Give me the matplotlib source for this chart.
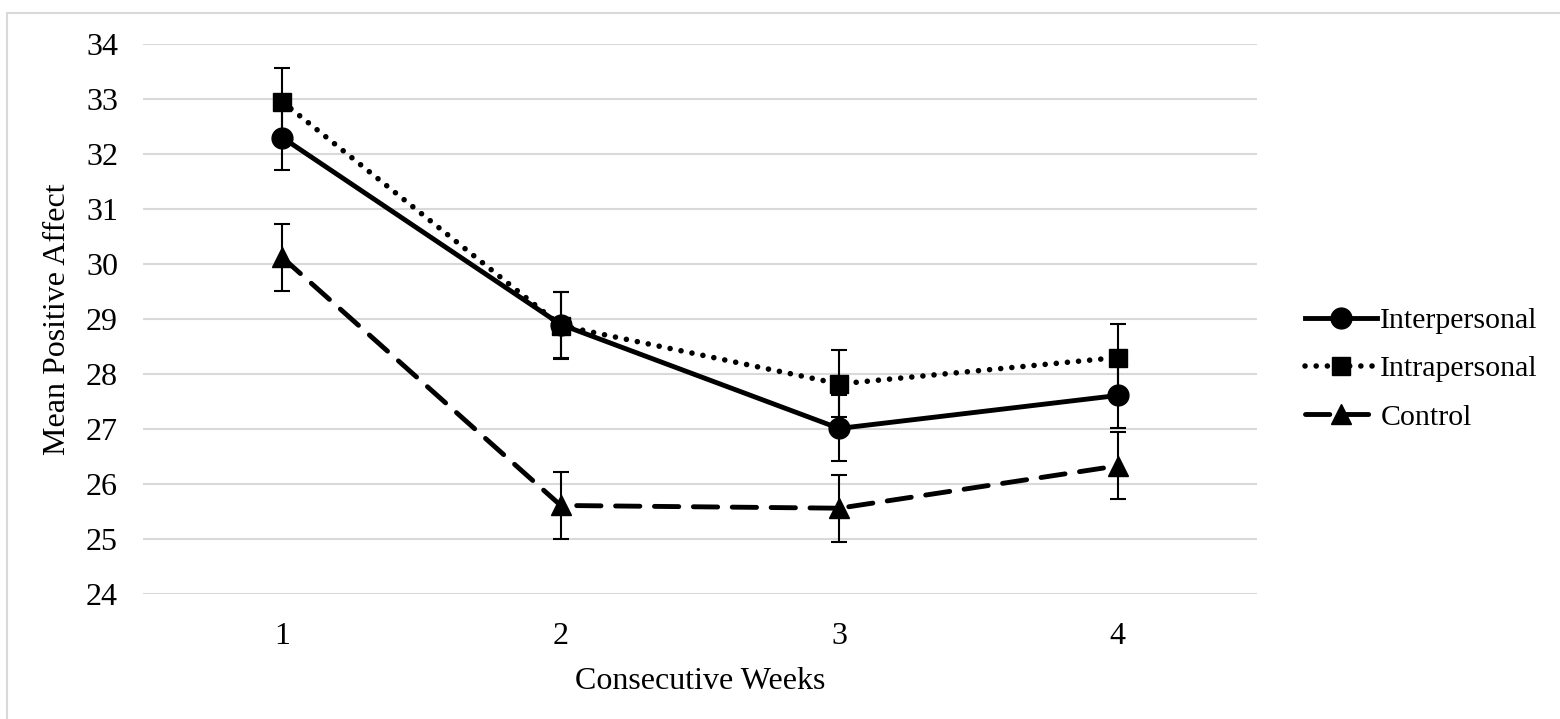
import matplotlib.pyplot as plt
from matplotlib.lines import Line2D

# data
weeks = [1, 2, 3, 4]
interpersonal = [32.30, 28.90, 27.01, 27.61]
intrapersonal = [32.95, 28.88, 27.82, 28.30]
control = [30.12, 25.61, 25.56, 26.33]
err_inter = [0.59, 0.60, 0.60, 0.60]
err_intra = [0.61, 0.61, 0.61, 0.61]
err_control = [0.61, 0.61, 0.61, 0.61]
yticks = list(range(24, 35))

plt.rcParams['font.family'] = ['Liberation Serif', 'DejaVu Serif']
fs = 23

fig = plt.figure(figsize=(15.6, 7.19), dpi=100)
ax = fig.add_axes([143 / 1560, 1 - 594 / 719, (1257 - 143) / 1560, (594 - 44) / 719])

# chart border (top and left edges visible)
fig.add_artist(Line2D([7 / 1560, 1], [1 - 13 / 719, 1 - 13 / 719], color='#d9d9d9', lw=1.5))
fig.add_artist(Line2D([7 / 1560, 7 / 1560], [0, 1 - 13 / 719], color='#d9d9d9', lw=1.5))

for y in yticks:
    ax.axhline(y, color='#d9d9d9', lw=1.5, zorder=0)

ax.errorbar(weeks, control, yerr=err_control, fmt='none', ecolor='black', elinewidth=1.5, capsize=6, capthick=1.5, zorder=2)
ax.errorbar(weeks, interpersonal, yerr=err_inter, fmt='none', ecolor='black', elinewidth=1.5, capsize=6, capthick=1.5, zorder=2)
ax.errorbar(weeks, intrapersonal, yerr=err_intra, fmt='none', ecolor='black', elinewidth=1.5, capsize=6, capthick=1.5, zorder=2)

l_ctrl, = ax.plot(weeks, control, color='black', lw=3.5, dashes=(5, 3), dash_capstyle='round',
                  marker='^', markersize=15, zorder=3, label='Control')
l_inter, = ax.plot(weeks, interpersonal, color='black', lw=3.5, marker='o', markersize=15,
                   zorder=3, label='Interpersonal')
l_intra, = ax.plot(weeks, intrapersonal, color='black', lw=4, dashes=(0.01, 2.0), dash_capstyle='round',
                   marker='s', markersize=13, zorder=4, label='Intrapersonal')

ax.set_xlim(0.5, 4.5)
ax.set_ylim(24, 34)
ax.set_xticks(weeks)
ax.set_yticks(yticks)
ax.tick_params(length=0, labelsize=fs)
ax.tick_params(axis='x', pad=20)
ax.tick_params(axis='y', pad=18)
for s in ax.spines.values():
    s.set_visible(False)

ax.set_xlabel('Consecutive Weeks', fontsize=fs, labelpad=12)
ax.set_ylabel('Mean Positive Affect', fontsize=fs, labelpad=10)

fig.legend(handles=[l_inter, l_intra, l_ctrl], loc='center left',
           bbox_to_anchor=(1305 / 1560, 1 - 369 / 719), frameon=False, fontsize=21.5,
           borderpad=0, borderaxespad=0,
           handlelength=2.4, handletextpad=0.12, labelspacing=0.72, markerscale=1.0)

fig.savefig('out.png', dpi=100)
